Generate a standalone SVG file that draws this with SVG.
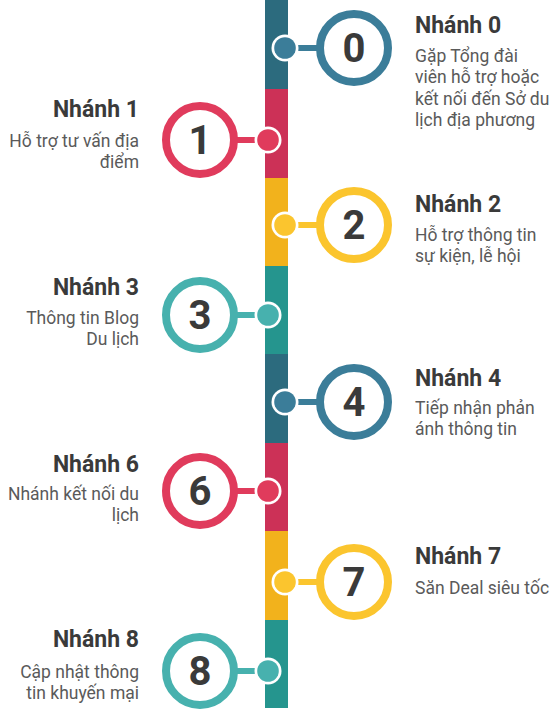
<svg xmlns="http://www.w3.org/2000/svg" width="555" height="723" viewBox="0 0 555 723">
<style>
.title{font-family:Roboto,"Liberation Sans",sans-serif;font-weight:700;font-size:23px;fill:#3a3a3a}
.desc{font-family:Roboto,"Liberation Sans",sans-serif;font-size:17.5px;fill:#5a5a5a}
.num{font-family:Roboto,"Liberation Sans",sans-serif;font-weight:700;font-size:40px;fill:#3a3a3a;text-anchor:middle}
.l{text-anchor:end}
.ring{fill:#fff;stroke-width:8}
.halo{fill:#fff}
.c-b{stroke:#3b7d99}.f-b{fill:#3b7d99}
.c-r{stroke:#e03b5c}.f-r{fill:#e03b5c}
.c-y{stroke:#fbc52e}.f-y{fill:#fbc52e}
.c-t{stroke:#47b1ae}.f-t{fill:#47b1ae}
.conn line{stroke-width:6}
</style>
<g id="bar">
<rect x="265" y="0" width="23" height="89" fill="#2c6b7e"/>
<rect x="265" y="89" width="23" height="89" fill="#cc3157"/>
<rect x="265" y="178" width="23" height="88" fill="#f2b21c"/>
<rect x="265" y="266" width="23" height="88" fill="#25958e"/>
<rect x="265" y="354" width="23" height="89" fill="#2c6b7e"/>
<rect x="265" y="443" width="23" height="88" fill="#cc3157"/>
<rect x="265" y="531" width="23" height="89" fill="#f2b21c"/>
<rect x="265" y="620" width="23" height="88" fill="#25958e"/>
</g>
<g id="connectors" class="conn">
<line x1="285" y1="48" x2="320" y2="48" class="c-b"/>
<line x1="268" y1="140" x2="234" y2="140" class="c-r"/>
<line x1="285" y1="225" x2="320" y2="225" class="c-y"/>
<line x1="268" y1="315" x2="234" y2="315" class="c-t"/>
<line x1="285" y1="402" x2="320" y2="402" class="c-b"/>
<line x1="268" y1="491" x2="234" y2="491" class="c-r"/>
<line x1="285" y1="582" x2="320" y2="582" class="c-y"/>
<line x1="268" y1="671" x2="234" y2="671" class="c-t"/>
</g>
<g id="node0">
<circle cx="285" cy="48" r="13.5" class="halo"/><circle cx="285" cy="48" r="10.8" class="f-b"/>
<circle cx="354" cy="48" r="34" class="ring c-b"/>
<text x="354" y="62" class="num">0</text>
<text x="415" y="33" class="title">Nhánh 0</text>
<text x="415" y="62" class="desc">Gặp Tổng đài</text>
<text x="415" y="83" class="desc">viên hỗ trợ hoặc</text>
<text x="415" y="105" class="desc">kết nối đến Sở du</text>
<text x="415" y="126" class="desc">lịch địa phương</text>
</g>
<g id="node1">
<circle cx="268" cy="140" r="13.5" class="halo"/><circle cx="268" cy="140" r="10.8" class="f-r"/>
<circle cx="200" cy="140" r="34" class="ring c-r"/>
<text x="200" y="154" class="num">1</text>
<text x="139" y="117" class="title l">Nhánh 1</text>
<text x="139" y="147" class="desc l">Hỗ trợ tư vấn địa</text>
<text x="139" y="168" class="desc l">điểm</text>
</g>
<g id="node2">
<circle cx="285" cy="225" r="13.5" class="halo"/><circle cx="285" cy="225" r="10.8" class="f-y"/>
<circle cx="354" cy="225" r="34" class="ring c-y"/>
<text x="354" y="239" class="num">2</text>
<text x="415" y="212" class="title">Nhánh 2</text>
<text x="415" y="241" class="desc">Hỗ trợ thông tin</text>
<text x="415" y="262" class="desc">sự kiện, lễ hội</text>
</g>
<g id="node3">
<circle cx="268" cy="315" r="13.5" class="halo"/><circle cx="268" cy="315" r="10.8" class="f-t"/>
<circle cx="200" cy="315" r="34" class="ring c-t"/>
<text x="200" y="329" class="num">3</text>
<text x="139" y="295" class="title l">Nhánh 3</text>
<text x="139" y="324" class="desc l">Thông tin Blog</text>
<text x="139" y="345" class="desc l">Du lịch</text>
</g>
<g id="node4">
<circle cx="285" cy="402" r="13.5" class="halo"/><circle cx="285" cy="402" r="10.8" class="f-b"/>
<circle cx="354" cy="402" r="34" class="ring c-b"/>
<text x="354" y="416" class="num">4</text>
<text x="415" y="386" class="title">Nhánh 4</text>
<text x="415" y="414" class="desc">Tiếp nhận phản</text>
<text x="415" y="435" class="desc">ánh thông tin</text>
</g>
<g id="node6">
<circle cx="268" cy="491" r="13.5" class="halo"/><circle cx="268" cy="491" r="10.8" class="f-r"/>
<circle cx="200" cy="491" r="34" class="ring c-r"/>
<text x="200" y="505" class="num">6</text>
<text x="139" y="472" class="title l">Nhánh 6</text>
<text x="139" y="500" class="desc l">Nhánh kết nối du</text>
<text x="139" y="521" class="desc l">lịch</text>
</g>
<g id="node7">
<circle cx="285" cy="582" r="13.5" class="halo"/><circle cx="285" cy="582" r="10.8" class="f-y"/>
<circle cx="354" cy="582" r="34" class="ring c-y"/>
<text x="354" y="596" class="num">7</text>
<text x="415" y="564" class="title">Nhánh 7</text>
<text x="415" y="594" class="desc">Săn Deal siêu tốc</text>
</g>
<g id="node8">
<circle cx="268" cy="671" r="13.5" class="halo"/><circle cx="268" cy="671" r="10.8" class="f-t"/>
<circle cx="200" cy="671" r="34" class="ring c-t"/>
<text x="200" y="685" class="num">8</text>
<text x="139" y="647" class="title l">Nhánh 8</text>
<text x="139" y="678" class="desc l">Cập nhật thông</text>
<text x="139" y="699" class="desc l">tin khuyến mại</text>
</g>
</svg>
